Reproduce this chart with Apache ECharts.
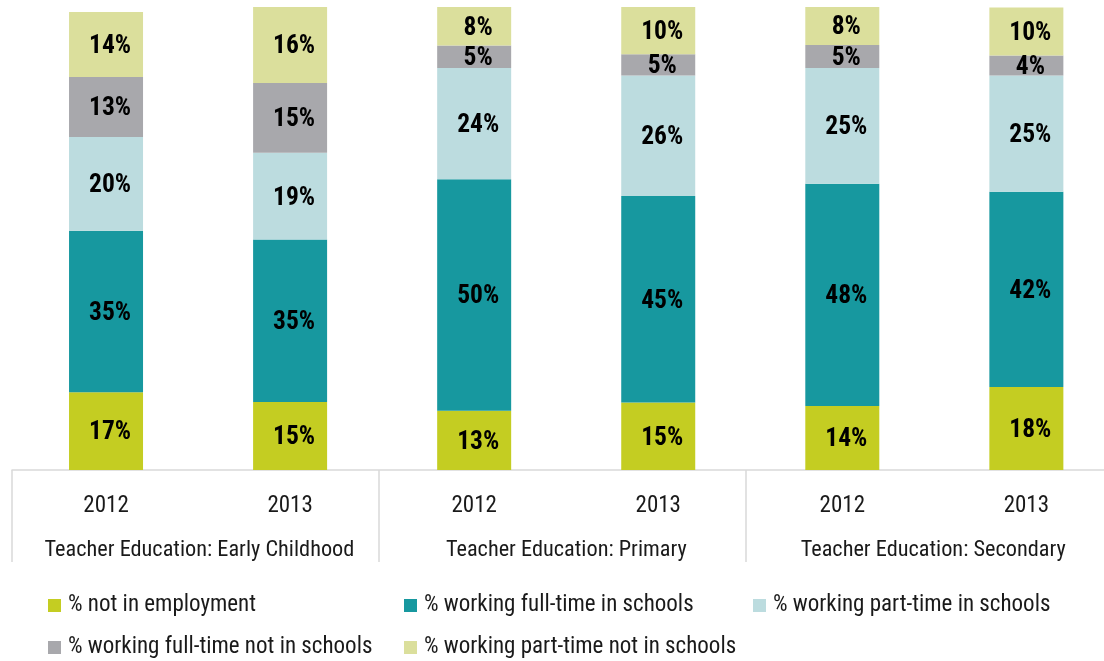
<!DOCTYPE html>
<html>
<head>
<meta charset="utf-8">
<script src="https://cdn.jsdelivr.net/npm/echarts@6/dist/echarts.min.js"></script>
<style>
  html, body { margin: 0; padding: 0; background: #fff; }
  #main { width: 1104px; height: 661px; }
</style>
</head>
<body>
<div id="main"></div>
<script>
// values (percent of graduates)
var years = ['2012', '2013', '2012', '2013', '2012', '2013']
var groups = ['Teacher Education: Early Childhood', 'Teacher Education: Primary', 'Teacher Education: Secondary']

var notEmployed = [16.8, 14.7, 12.8, 14.6, 13.8, 17.9]
var fullTimeSchools = [34.9, 35.1, 50.0, 44.6, 48.0, 42.2]
var partTimeSchools = [20.2, 18.7, 24.0, 26.0, 25.0, 25.1]
var fullTimeOther = [13.0, 15.1, 4.9, 4.6, 5.0, 4.3]
var partTimeOther = [14.0, 16.4, 8.3, 10.4, 8.2, 10.4]

var seriesNames = [
  '% not in employment',
  '% working full-time in schools',
  '% working part-time in schools',
  '% working full-time not in schools',
  '% working part-time not in schools'
]
var seriesData = [notEmployed, fullTimeSchools, partTimeSchools, fullTimeOther, partTimeOther]
var colors = ['#c4cd22', '#17989f', '#bcdcdf', '#a8a8ac', '#dbdf9c']

var FONT = "'Roboto Condensed', 'DejaVu Sans Condensed', sans-serif"
var lineColor = '#d9d9d9'

var chart = echarts.init(document.getElementById('main'))

// legend laid out as a 3-column grid, one legend per item
var legendPos = [[43, 589], [399, 589], [748, 589], [43, 631], [399, 631]]
var legends = seriesNames.map(function (name, i) {
  return {
    data: [name],
    left: legendPos[i][0],
    top: legendPos[i][1],
    icon: 'rect',
    itemWidth: 13,
    itemHeight: 13,
    selectedMode: false,
    textStyle: { fontFamily: FONT, fontSize: 23, color: '#1a1a1a', padding: [0, 0, 0, 2] }
  }
})

var series = seriesNames.map(function (name, i) {
  return {
    name: name,
    type: 'bar',
    stack: 'total',
    xAxisIndex: 0,
    yAxisIndex: 0,
    barWidth: 74,
    itemStyle: { color: colors[i] },
    label: {
      show: true,
      position: 'inside',
      offset: [4, 2],
      fontFamily: FONT,
      fontWeight: 'bold',
      fontSize: 25.5,
      color: '#000',
      formatter: function (p) { return Math.round(p.value) + '%' }
    },
    data: seriesData[i]
  }
})

chart.setOption({
  animation: false,
  backgroundColor: '#fff',
  legend: legends,
  // the last column runs a bit past the right edge, so no outer bounds
  grid: [
    { left: 14, width: 1104.4, top: 7, bottom: 191, outerBoundsMode: 'none' },
    { left: 12, width: 1100.7, top: 7, bottom: 191, outerBoundsMode: 'none' }
  ],
  xAxis: [
    {
      type: 'category',
      gridIndex: 0,
      data: years,
      axisLine: { show: false },
      axisTick: { show: false },
      axisLabel: { fontFamily: FONT, fontSize: 23, color: '#1a1a1a', margin: 25, interval: 0 }
    },
    {
      // group axis: gives the base line and the long separators
      type: 'category',
      gridIndex: 1,
      data: groups,
      axisLine: { show: true, lineStyle: { color: lineColor, width: 1.5 } },
      axisTick: { show: true, length: 92, interval: 0, lineStyle: { color: lineColor, width: 1.5 } },
      axisLabel: { fontFamily: FONT, fontSize: 22.3, color: '#1a1a1a', margin: 69, interval: 0, padding: [0, 0, 0, 8] }
    }
  ],
  yAxis: [
    { type: 'value', gridIndex: 0, min: 0, max: 100, show: false },
    { type: 'value', gridIndex: 1, min: 0, max: 100, show: false }
  ],
  series: series
})
</script>
</body>
</html>
